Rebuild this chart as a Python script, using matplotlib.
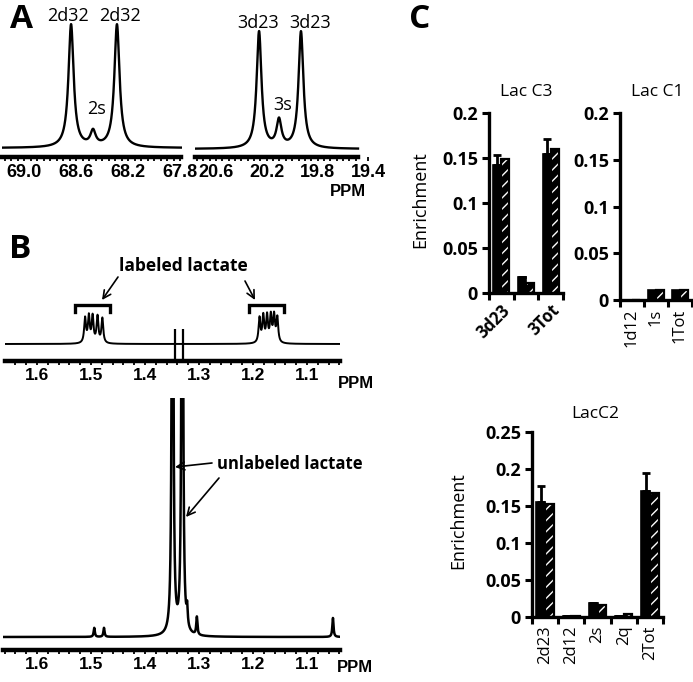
import numpy as np
import matplotlib
matplotlib.use('Agg')
import matplotlib.pyplot as plt
from matplotlib.transforms import Affine2D
from matplotlib.patches import FancyArrowPatch
from matplotlib.ticker import FixedLocator, NullFormatter

W, H = 693, 682

# ---------------- data ----------------
# Panel A: 13C multiplets (ppm, relative height)
a_c2_ppm = [68.638, 68.469, 68.285]
a_c2_height = [1.0, 0.12, 1.0]
a_c3_ppm = [20.261, 20.104, 19.931]
a_c3_height = [0.95, 0.22, 0.95]
a_c2_ticks = [69.0, 68.6, 68.2, 67.8]
a_c3_ticks = [20.6, 20.2, 19.8, 19.4]

# Panel B (top): 1H spectrum of 13C-labeled lactate methyl
b_lab_ppm = [1.511, 1.504, 1.497, 1.488, 1.479,
             1.188, 1.181, 1.174, 1.167, 1.161, 1.155]
b_lab_height = [0.8, 0.85, 0.85, 0.85, 0.8,
                0.8, 0.85, 0.85, 0.85, 0.85, 0.8]
b_resid_ppm = [1.344, 1.330]
b_resid_top = [0.48, 0.5]
b_resid_bottom = [-0.55, -0.55]
# Panel B (bottom): full 1H spectrum
b_unl_ppm = [1.494, 1.476, 1.349, 1.331, 1.322, 1.304, 1.052]
b_unl_height = [0.45, 0.45, 40.0, 40.0, 0.9, 0.9, 0.95]
b_ticks = [1.6, 1.5, 1.4, 1.3, 1.2, 1.1]

# Panel C: enrichment
c3_cats = ['3d23', '3s', '3Tot']
c3_black = [0.142, 0.018, 0.155]
c3_black_err = [0.011, 0.0, 0.016]
c3_hatch = [0.149, 0.011, 0.160]
c3_yticks = [0, 0.05, 0.1, 0.15, 0.2]

c1_cats = ['1d12', '1s', '1Tot']
c1_black = [0.0, 0.011, 0.011]
c1_hatch = [0.0, 0.011, 0.011]
c1_yticks = [0, 0.05, 0.1, 0.15, 0.2]

c2_cats = ['2d23', '2d12', '2s', '2q', '2Tot']
c2_black = [0.156, 0.002, 0.019, 0.002, 0.170]
c2_black_err = [0.021, 0.0, 0.0, 0.0, 0.024]
c2_hatch = [0.153, 0.002, 0.0166, 0.004, 0.1676]
c2_yticks = [0, 0.05, 0.1, 0.15, 0.2, 0.25]

# ---------------- figure ----------------
fig = plt.figure(figsize=(W / 100, H / 100), dpi=100)
pix = Affine2D().scale(1.0 / W, -1.0 / H).translate(0, 1) + fig.transFigure

CAL = ['Open Sans', 'DejaVu Sans']
ARB = ['Liberation Sans', 'DejaVu Sans']


def ptext(x, y, s, **kw):
    kw.setdefault('ha', 'center')
    kw.setdefault('va', 'center')
    fig.text(x, y, s, transform=pix, **kw)


def parrow(tail, head):
    fig.add_artist(FancyArrowPatch(tail, head, transform=pix,
                                   arrowstyle='->', mutation_scale=14,
                                   lw=1.2, color='black',
                                   shrinkA=0, shrinkB=0))


def lorentz(x, centers, heights, w):
    y = np.zeros_like(x)
    for c, h in zip(centers, heights):
        y += h / (1.0 + ((x - c) / w) ** 2)
    return y


def spec_ax(px0, px1, ytop, yaxis, ybase, unit, ref_px, ref_ppm, px_per_ppm,
            ticks, minor, fsize, line0=None, line1=None):
    ax = fig.add_axes([px0 / W, 1 - yaxis / H, (px1 - px0) / W, (yaxis - ytop) / H])
    to_ppm = lambda p: ref_ppm - (p - ref_px) / px_per_ppm
    left, right = to_ppm(px0), to_ppm(px1)
    ax.set_xlim(left, right)
    ax.set_ylim(-(yaxis - ybase) / unit, (ybase - ytop) / unit)
    ax.patch.set_alpha(0)
    for s in ['left', 'right', 'top']:
        ax.spines[s].set_visible(False)
    l0 = to_ppm(px0 if line0 is None else line0)
    l1 = to_ppm(px1 if line1 is None else line1)
    ax.spines['bottom'].set_bounds(l1, l0)
    ax.spines['bottom'].set_linewidth(3.2)
    ax.set_yticks([])
    ax.xaxis.set_major_locator(FixedLocator(ticks))
    mt = np.arange(np.ceil(l1 / minor) * minor, l0, minor)
    ax.xaxis.set_minor_locator(FixedLocator(mt))
    ax.set_xticklabels(['%.1f' % t for t in ticks], fontfamily=ARB,
                       fontweight='bold', fontsize=fsize)
    ax.tick_params(axis='x', which='both', direction='out', length=3,
                   width=1.3, pad=2)
    return ax


# ---- Panel A ----
axA1 = spec_ax(2, 182, 10, 157, 148, 123, 24, 69.0, 130.0, a_c2_ticks, 0.05,
               13, line1=181)
x = np.linspace(*axA1.get_xlim(), 6000)
axA1.plot(x, lorentz(x, a_c2_ppm, a_c2_height, 0.024), color='black', lw=1.7)

axA2 = spec_ax(195, 369, 10, 157, 149, 123, 216, 20.6, 127.0, a_c3_ticks, 0.05,
               13, line1=358)
x = np.linspace(axA2.get_xlim()[0], 20.6 - (358 - 216) / 127.0, 6000)
axA2.plot(x, lorentz(x, a_c3_ppm, a_c3_height, 0.023), color='black', lw=1.7)

ptext(22, 20, 'A', fontfamily=CAL, fontweight='bold', fontsize=24)
ptext(68, 16, '2d32', fontfamily=CAL, fontsize=13)
ptext(120, 16, '2d32', fontfamily=CAL, fontsize=13)
ptext(97, 109, '2s', fontfamily=CAL, fontsize=13)
ptext(258, 23, '3d23', fontfamily=CAL, fontsize=13)
ptext(310, 23, '3d23', fontfamily=CAL, fontsize=13)
ptext(283, 105, '3s', fontfamily=CAL, fontsize=13)
ptext(348, 192, 'PPM', fontfamily=ARB, fontweight='bold', fontsize=12)

# ---- Panel B top ----
axB1 = spec_ax(5, 340, 295, 361, 344, 31, 37, 1.6, 540.0, b_ticks, 0.02, 12.5)
x = np.linspace(*axB1.get_xlim(), 12000)
axB1.plot(x, lorentz(x, b_lab_ppm, b_lab_height, 0.002), color='black', lw=1.4)
axB1.vlines(b_resid_ppm, b_resid_bottom, b_resid_top, color='black', lw=1.6)
for l, r in [(1.530, 1.465), (1.207, 1.143)]:
    axB1.plot([l, l, r, r], [1.02, 1.26, 1.26, 1.02], color='black', lw=2.4,
              clip_on=False, solid_joinstyle='miter')

ptext(20, 250, 'B', fontfamily=CAL, fontweight='bold', fontsize=24)
ptext(183, 266, 'labeled lactate', fontfamily=CAL, fontweight='bold', fontsize=12.5)
parrow((118, 277), (102, 300))
parrow((245, 281), (255, 300))
ptext(338, 383, 'PPM', fontfamily=ARB, fontweight='bold', fontsize=12, ha='left')

# ---- Panel B bottom ----
axB2 = spec_ax(3, 340, 398, 650, 637, 20, 37, 1.6, 540.0, b_ticks, 0.02, 12.5)
x = np.linspace(*axB2.get_xlim(), 20000)
axB2.plot(x, lorentz(x, b_unl_ppm, b_unl_height, 0.0013), color='black', lw=1.8)
ptext(217, 464, 'unlabeled lactate', fontfamily=CAL, fontweight='bold',
      fontsize=12, ha='left')
parrow((212, 463), (175, 467))
parrow((219, 478), (186, 517))
ptext(337, 668, 'PPM', fontfamily=ARB, fontweight='bold', fontsize=12, ha='left')


# ---- Panel C ----
def bar_ax(px0, px1, ytop, yaxis, cats, black, black_err, hatch, yticks,
           ymax, rot, shown=None):
    ax = fig.add_axes([px0 / W, 1 - yaxis / H, (px1 - px0) / W, (yaxis - ytop) / H])
    n = len(cats)
    xs = np.arange(n)
    bw = 0.33
    ax.bar(xs - bw / 2, black, bw, color='black', edgecolor='black', lw=1.2,
           zorder=2)
    if black_err is not None:
        ax.errorbar(xs - bw / 2, black, yerr=[np.zeros(n), black_err],
                    fmt='none', ecolor='black', elinewidth=2, capsize=3.2,
                    capthick=2, zorder=3)
    ax.bar(xs + bw / 2, hatch, bw, color='black', edgecolor='white',
           hatch='///', lw=0, zorder=2)
    ax.bar(xs + bw / 2, hatch, bw, fill=False, edgecolor='black', lw=1.6,
           zorder=3)
    ax.set_xlim(-0.5, n - 0.5)
    ax.set_ylim(0, ymax)
    ax.patch.set_alpha(0)
    for s in ['right', 'top']:
        ax.spines[s].set_visible(False)
    for s in ['left', 'bottom']:
        ax.spines[s].set_linewidth(2.4)
    ax.yaxis.set_major_locator(FixedLocator(yticks))
    ax.set_yticklabels(['%g' % v for v in yticks], fontfamily=CAL,
                       fontweight='bold', fontsize=13)
    ax.tick_params(axis='y', direction='out', length=5, width=2.2, pad=3)
    ax.xaxis.set_major_locator(FixedLocator(np.arange(n + 1) - 0.5))
    ax.xaxis.set_major_formatter(NullFormatter())
    ax.xaxis.set_minor_locator(FixedLocator(xs))
    labels = [c if (shown is None or i in shown) else '' for i, c in enumerate(cats)]
    if rot == 45:
        ax.set_xticklabels(labels, minor=True, rotation=45, ha='right',
                           va='top', rotation_mode='anchor', fontfamily=CAL,
                           fontweight='bold', fontsize=12)
    else:
        ax.set_xticklabels(labels, minor=True, rotation=90, ha='center',
                           va='top', fontfamily=CAL, fontsize=12)
    ax.tick_params(axis='x', which='major', direction='out', length=5,
                   width=2.2)
    ax.tick_params(axis='x', which='minor', length=0, pad=6)
    return ax


axC3 = bar_ax(489, 563, 113, 293, c3_cats, c3_black, c3_black_err, c3_hatch,
              c3_yticks, 0.2, 45, shown=[0, 2])
axC1 = bar_ax(620, 692, 113, 300, c1_cats, c1_black, None, c1_hatch,
              c1_yticks, 0.2, 90)
axC2 = bar_ax(532, 663, 432, 617, c2_cats, c2_black, c2_black_err, c2_hatch,
              c2_yticks, 0.25, 90)

ptext(420, 20, 'C', fontfamily=CAL, fontweight='bold', fontsize=24)
ptext(526, 92, 'Lac C3', fontfamily=CAL, fontsize=12.5)
ptext(657, 92, 'Lac C1', fontfamily=CAL, fontsize=12.5)
ptext(595, 414, 'LacC2', fontfamily=CAL, fontsize=12.5)
ptext(420, 200, 'Enrichment', fontfamily=CAL, fontsize=13, rotation=90)
ptext(458, 521, 'Enrichment', fontfamily=CAL, fontsize=13, rotation=90)

fig.savefig('out.png', dpi=100)
